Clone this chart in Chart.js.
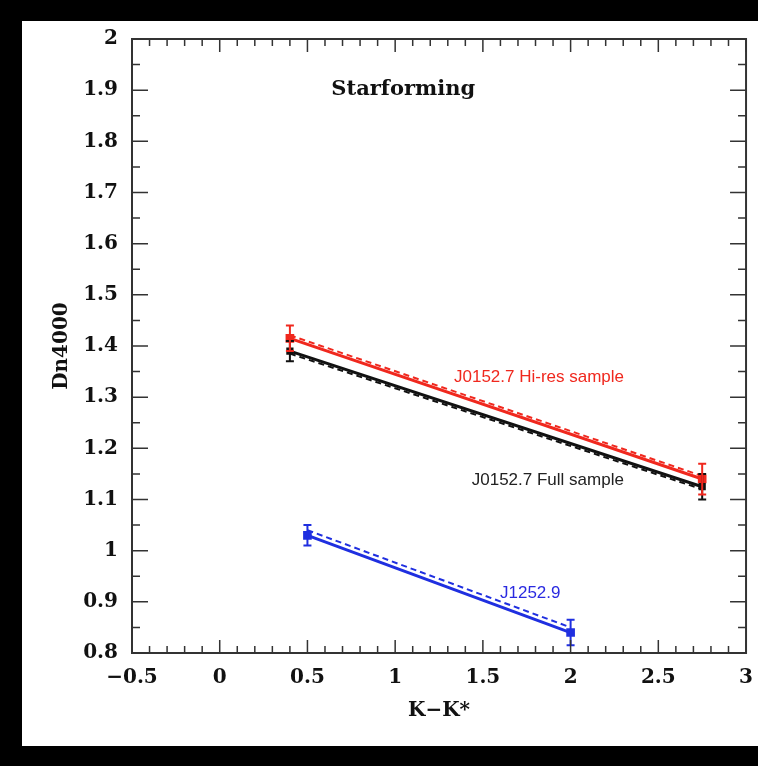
<!DOCTYPE html>
<html>
<head>
<meta charset="utf-8">
<script src="https://cdn.jsdelivr.net/npm/chart.js@4/dist/chart.umd.min.js"></script>
<style>
  html, body { margin: 0; padding: 0; background: #000; }
  #wrap { width: 758px; height: 766px; }
</style>
</head>
<body>
<div id="wrap"><canvas id="dnChart" width="758" height="766"></canvas></div>
<script>
// values
const hiresX = [0.4, 2.75];
const hiresY = [1.415, 1.14];
const hiresErr = [0.025, 0.03];
const hiresDashY = [1.421, 1.146];

const fullX = [0.4, 2.75];
const fullY = [1.39, 1.125];
const fullErr = [0.02, 0.025];
const fullDashY = [1.385, 1.12];

const j1252X = [0.5, 2.0];
const j1252Y = [1.03, 0.84];
const j1252Err = [0.02, 0.025];
const j1252DashY = [1.04, 0.85];

const xTicks = [-0.5, 0, 0.5, 1, 1.5, 2, 2.5, 3];
const yTicks = [0.8, 0.9, 1, 1.1, 1.2, 1.3, 1.4, 1.5, 1.6, 1.7, 1.8, 1.9, 2];

const labels = [
  { text: "Starforming", x: 1.046, y: 1.902, color: "#111", font: "bold 21px 'DejaVu Serif'" },
  { text: "J0152.7 Hi-res sample", x: 1.82, y: 1.339, color: "#f0281e", font: "17px 'Liberation Sans'" },
  { text: "J0152.7 Full sample", x: 1.87, y: 1.138, color: "#222", font: "17px 'Liberation Sans'" },
  { text: "J1252.9", x: 1.77, y: 0.917, color: "#2a2ae0", font: "17px 'Liberation Sans'" }
];

const pts = (xs, ys) => xs.map((x, i) => ({ x: x, y: ys[i] }));

// black page with the white panel
const panelBg = {
  id: "panelBg",
  beforeDraw(chart) {
    const c = chart.ctx;
    c.save();
    c.fillStyle = "#000";
    c.fillRect(0, 0, chart.width, chart.height);
    c.fillStyle = "#fff";
    c.fillRect(22, 21, chart.width - 22, 725);
    c.restore();
  }
};

// vertical error bars with caps
const errorBars = {
  id: "errorBars",
  afterDatasetsDraw(chart) {
    const c = chart.ctx;
    const xs = chart.scales.x, ys = chart.scales.y;
    chart.data.datasets.forEach(ds => {
      if (!ds.errs) return;
      c.save();
      c.strokeStyle = ds.borderColor;
      c.lineWidth = 2;
      ds.data.forEach((p, i) => {
        const px = xs.getPixelForValue(p.x);
        const top = ys.getPixelForValue(p.y + ds.errs[i]);
        const bot = ys.getPixelForValue(p.y - ds.errs[i]);
        c.beginPath();
        c.moveTo(px, top); c.lineTo(px, bot);
        c.moveTo(px - 4, top); c.lineTo(px + 4, top);
        c.moveTo(px - 4, bot); c.lineTo(px + 4, bot);
        c.stroke();
      });
      c.restore();
    });
  }
};

// frame with inward major/minor ticks on all four sides
const frameTicks = {
  id: "frameTicks",
  afterDraw(chart) {
    const c = chart.ctx;
    const a = chart.chartArea;
    const xs = chart.scales.x, ys = chart.scales.y;
    c.save();
    c.strokeStyle = "#333";
    c.lineWidth = 2;
    c.strokeRect(a.left, a.top, a.right - a.left, a.bottom - a.top);
    c.lineWidth = 1.5;
    c.beginPath();
    for (let i = 0; i <= 35; i++) {
      const v = -0.5 + i * 0.1;
      const len = i % 5 === 0 ? 13 : 7;
      const px = xs.getPixelForValue(v);
      c.moveTo(px, a.bottom); c.lineTo(px, a.bottom - len);
      c.moveTo(px, a.top); c.lineTo(px, a.top + len);
    }
    for (let i = 0; i <= 24; i++) {
      const v = 0.8 + i * 0.05;
      const len = i % 2 === 0 ? 16 : 8;
      const py = ys.getPixelForValue(v);
      c.moveTo(a.left, py); c.lineTo(a.left + len, py);
      c.moveTo(a.right, py); c.lineTo(a.right - len, py);
    }
    c.stroke();
    c.restore();
  }
};

// text labels placed in data coordinates
const annotations = {
  id: "annotations",
  afterDatasetsDraw(chart) {
    const c = chart.ctx;
    const xs = chart.scales.x, ys = chart.scales.y;
    c.save();
    c.textAlign = "center";
    c.textBaseline = "middle";
    labels.forEach(l => {
      c.font = l.font;
      c.fillStyle = l.color;
      c.fillText(l.text, xs.getPixelForValue(l.x), ys.getPixelForValue(l.y));
    });
    c.restore();
  }
};

const tickFont = { family: "'DejaVu Serif'", size: 20, weight: "bold" };
const titleFont = { family: "'DejaVu Serif'", size: 20, weight: "bold" };

// later datasets are painted on top: blue, then black, then red
new Chart(document.getElementById("dnChart"), {
  type: "scatter",
  data: {
    datasets: [
      {
        data: pts(j1252X, j1252DashY),
        showLine: true, borderColor: "#1f2fe0", borderWidth: 2,
        borderDash: [6, 4], pointRadius: 0
      },
      {
        data: pts(j1252X, j1252Y), errs: j1252Err,
        showLine: true, borderColor: "#1f2fe0", backgroundColor: "#1f2fe0",
        borderWidth: 3, pointStyle: "rect", pointRadius: 4
      },
      {
        data: pts(fullX, fullDashY),
        showLine: true, borderColor: "#111", borderWidth: 2,
        borderDash: [6, 4], pointRadius: 0
      },
      {
        data: pts(fullX, fullY), errs: fullErr,
        showLine: true, borderColor: "#111", backgroundColor: "#111",
        borderWidth: 3, pointStyle: "rect", pointRadius: 3
      },
      {
        data: pts(hiresX, hiresDashY),
        showLine: true, borderColor: "#f0281e", borderWidth: 2,
        borderDash: [6, 4], pointRadius: 0
      },
      {
        data: pts(hiresX, hiresY), errs: hiresErr,
        showLine: true, borderColor: "#f0281e", backgroundColor: "#f0281e",
        borderWidth: 3, pointStyle: "rect", pointRadius: 4
      }
    ]
  },
  options: {
    responsive: false,
    animation: false,
    layout: { padding: { left: 0, right: 8, top: 39, bottom: 0 } },
    plugins: { legend: { display: false }, tooltip: { enabled: false } },
    scales: {
      x: {
        type: "linear", min: -0.5, max: 3,
        afterFit: s => { s.height = 113; },
        afterBuildTicks: s => { s.ticks = xTicks.map(v => ({ value: v })); },
        grid: { display: false },
        border: { display: false },
        ticks: {
          padding: 5, color: "#111", font: tickFont, maxRotation: 0,
          callback: v => (v < 0 ? "\u2212" + Math.abs(v) : String(v))
        },
        title: {
          display: true, text: "K\u2212K*", color: "#111",
          font: titleFont,
          padding: { top: 0, bottom: 43 }
        }
      },
      y: {
        type: "linear", min: 0.8, max: 2,
        afterFit: s => { s.width = 132; },
        afterBuildTicks: s => { s.ticks = yTicks.map(v => ({ value: v })); },
        grid: { display: false },
        border: { display: false },
        ticks: {
          padding: 6, color: "#111", font: tickFont,
          callback: v => String(Number(v.toFixed(1)))
        },
        title: {
          display: true, text: "Dn4000", color: "#111",
          font: titleFont,
          padding: { top: 50, bottom: 0 }
        }
      }
    }
  },
  plugins: [panelBg, errorBars, frameTicks, annotations]
});
</script>
</body>
</html>
